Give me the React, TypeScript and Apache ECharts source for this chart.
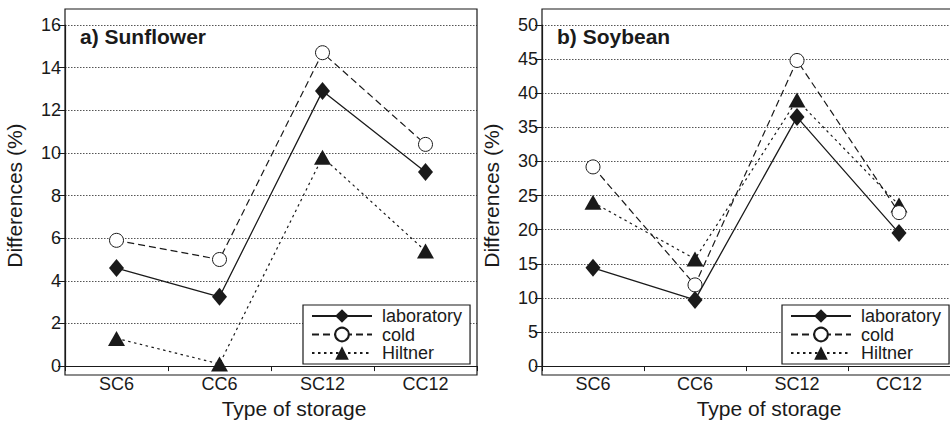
import React, { useEffect, useRef } from "react";
import * as echarts from "echarts";

const categories = ["SC6", "CC6", "SC12", "CC12"];
const seriesNames = ["laboratory", "cold", "Hiltner"];

const sunLab = [4.6, 3.25, 12.9, 9.1];
const sunCold = [5.9, 5.0, 14.7, 10.4];
const sunHiltner = [1.3, 0.1, 9.8, 5.4];

const soyLab = [14.4, 9.7, 36.5, 19.5];
const soyCold = [29.2, 11.9, 44.8, 22.5];
const soyHiltner = [24.0, 15.7, 39.0, 23.6];

const FONT = "'Liberation Sans', Arial, Helvetica, sans-serif";
const INK = "#1a1a1a";

const styles: Record<string, any> = {
  laboratory: {
    symbol: "diamond",
    symbolSize: [15, 18],
    itemStyle: { color: INK, borderColor: INK, borderWidth: 0 },
    lineStyle: { color: INK, width: 1.3, type: "solid" },
  },
  cold: {
    symbol: "circle",
    symbolSize: 14,
    itemStyle: { color: "#ffffff", borderColor: INK, borderWidth: 1 },
    lineStyle: { color: INK, width: 1.2, type: [7, 4] },
  },
  Hiltner: {
    symbol: "triangle",
    symbolSize: [17, 15],
    itemStyle: { color: INK, borderColor: INK, borderWidth: 0 },
    lineStyle: { color: INK, width: 1.2, type: [2.5, 3.5] },
  },
};

function makeSeries(name: string, data: number[], idx: number) {
  return {
    type: "line",
    name,
    data,
    xAxisIndex: idx,
    yAxisIndex: idx,
    z: name === "cold" ? 3 : name === "laboratory" ? 4 : 2,
    ...styles[name],
  };
}

function xAxisFor(idx: number) {
  return {
    type: "category",
    gridIndex: idx,
    data: categories,
    boundaryGap: true,
    axisLine: { show: true, lineStyle: { color: INK, width: 1.2 } },
    axisTick: { show: true, length: 5, lineStyle: { color: INK, width: 1 } },
    axisLabel: { color: INK, fontSize: 18, fontFamily: FONT, margin: 9 },
    name: "Type of storage",
    nameLocation: "middle",
    nameGap: 30,
    nameTextStyle: { color: INK, fontSize: 21, fontFamily: FONT, padding: [0, 0, 0, 46] },
  };
}

function yAxisFor(idx: number, max: number, interval: number) {
  return {
    type: "value",
    gridIndex: idx,
    min: 0,
    max,
    interval,
    axisLine: { show: true, lineStyle: { color: INK, width: 1.2 } },
    axisTick: { show: true, length: 7, lineStyle: { color: INK, width: 1 } },
    axisLabel: { color: INK, fontSize: 18, fontFamily: FONT, margin: 4 },
    splitLine: { show: true, lineStyle: { color: "#555", width: 1, type: [1.5, 1.5] } },
    name: "Differences (%)",
    nameLocation: "middle",
    nameGap: 40,
    nameTextStyle: { color: INK, fontSize: 21, fontFamily: FONT },
  };
}

function legendFor(left: number) {
  return {
    orient: "vertical",
    left,
    top: 305,
    data: seriesNames,
    itemWidth: 60,
    itemHeight: 17,
    itemGap: 0.5,
    padding: [2, 8, 2, 8],
    borderColor: INK,
    borderWidth: 1.2,
    backgroundColor: "#ffffff",
    selectedMode: false,
    textStyle: {
      color: INK,
      fontSize: 18,
      lineHeight: 17,
      fontFamily: FONT,
      padding: [0, 0, 0, 5],
    },
  };
}

export default function App() {
  const ref = useRef<HTMLDivElement>(null);

  useEffect(() => {
    if (!ref.current) return;
    const chart = echarts.init(ref.current, null, { renderer: "svg" });
    const option: any = {
      animation: false,
      backgroundColor: "#ffffff",
      textStyle: { fontFamily: FONT },
      grid: [
        { left: 65, top: 25, width: 412, height: 350, containLabel: false },
        { left: 542, top: 25, width: 412, height: 350, containLabel: false },
      ],
      xAxis: [xAxisFor(0), xAxisFor(1)],
      yAxis: [yAxisFor(0, 16, 2), yAxisFor(1, 50, 5)],
      legend: [legendFor(303), legendFor(782)],
      graphic: [
        {
          type: "rect",
          shape: { x: 65, y: 9, width: 412, height: 366 },
          style: { fill: "none", stroke: INK, lineWidth: 1.2 },
          z: 10,
          silent: true,
        },
        {
          type: "rect",
          shape: { x: 542, y: 9, width: 412, height: 366 },
          style: { fill: "none", stroke: INK, lineWidth: 1.2 },
          z: 10,
          silent: true,
        },
        {
          type: "text",
          x: 80,
          y: 36,
          style: {
            text: "a) Sunflower",
            fill: INK,
            font: `bold 21px ${FONT}`,
            verticalAlign: "middle",
          },
        },
        {
          type: "text",
          x: 557,
          y: 36,
          style: {
            text: "b) Soybean",
            fill: INK,
            font: `bold 21px ${FONT}`,
            verticalAlign: "middle",
          },
        },
      ],
      series: [
        makeSeries("laboratory", sunLab, 0),
        makeSeries("cold", sunCold, 0),
        makeSeries("Hiltner", sunHiltner, 0),
        makeSeries("laboratory", soyLab, 1),
        makeSeries("cold", soyCold, 1),
        makeSeries("Hiltner", soyHiltner, 1),
      ],
    };
    chart.setOption(option);
    return () => chart.dispose();
  }, []);

  return (
    <div
      ref={ref}
      style={{ position: "fixed", left: 0, top: 0, width: 950, height: 424, background: "#fff" }}
    />
  );
}
